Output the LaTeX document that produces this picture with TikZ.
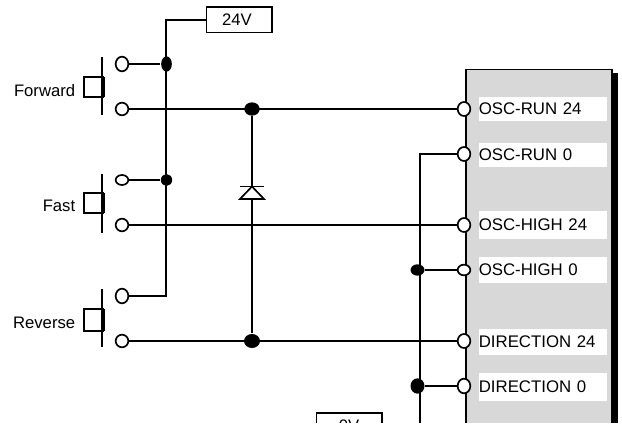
\documentclass[tikz,border=0pt]{standalone}
\usepackage{fontspec}
\usetikzlibrary{shapes.geometric}
\setmainfont{Liberation Sans}
\tikzset{every picture/.style={line width=1.25pt}}
\tikzset{
	terminal/.style={ellipse,draw,fill=white,minimum width=9.5pt,minimum height=#1,inner sep=0pt},
	terminal/.default=9.5pt,
	junction/.style={ellipse,fill=black,minimum height=#1,inner sep=0pt},
	pinlabel/.style={fill=white,anchor=west,font=\fontsize{12.6}{12.6}\selectfont,minimum height=#1,inner sep=0pt,text width=96pt,align=left},
	caption/.style={anchor=base east,font=\fontsize{12.5}{12.5}\selectfont,inner sep=0pt},
	supply/.style={draw,font=\fontsize{12.5}{12.5}\selectfont,minimum width=49pt,minimum height=19pt,inner sep=0pt}
}
\begin{document}
\begin{tikzpicture}[x=0.75pt,y=0.75pt,yscale=-1,xscale=1]
	\useasboundingbox (0,0) rectangle (622,424);
	\clip (0,0) rectangle (622,422.7);

	% Controller block
	\draw [fill={rgb, 255:red, 216; green, 216; blue, 216 }] (466,69.5) -- (612,69.5) -- (612,440) -- (466,440) -- cycle ;
	\fill (612,73) rectangle (618,440);
	\node [pinlabel=18pt] (lblRunHi) at (478,109) {OSC-RUN 24};
	\node [pinlabel=18pt] (lblRunLo) at (478,155) {OSC-RUN 0};
	\node [pinlabel=21pt] (lblHighHi) at (478,225) {OSC-HIGH 24};
	\node [pinlabel=19pt] (lblHighLo) at (478,270) {OSC-HIGH 0};
	\node [pinlabel=19.5pt] (lblDirHi) at (478,342) {DIRECTION 24};
	\node [pinlabel=21pt] (lblDirLo) at (478,387) {DIRECTION 0};

	% Ports
	\node [terminal=10.5pt] (pRunHi) at (464,109) {};
	\node [terminal=10.5pt] (pRunLo) at (464,154) {};
	\node [terminal=10.5pt] (pHighHi) at (464,225) {};
	\node [terminal=8pt] (pHighLo) at (464,270) {};
	\node [terminal=10.5pt] (pDirHi) at (464,341) {};
	\node [terminal=11pt] (pDirLo) at (464,386) {};

	% Switch contacts
	\node [terminal=11pt] (fwdA) at (122,64) {};
	\node [terminal] (fwdB) at (122,109) {};
	\node [terminal=7.5pt] (fastA) at (122,180) {};
	\node [terminal] (fastB) at (122,225) {};
	\node [terminal=11pt] (revA) at (122,296) {};
	\node [terminal] (revB) at (122,341) {};

	% Junctions
	\node [junction=11.5pt,minimum width=8pt] (jFwd) at (166.5,64) {};
	\node [junction=9pt,minimum width=8.5pt] (jFast) at (166.5,180) {};
	\node [junction=10pt,minimum width=11.5pt] (jDioTop) at (252,109) {};
	\node [junction=10.5pt,minimum width=12pt] (jDioBot) at (252,341) {};
	\node [junction=8.5pt,minimum width=10.5pt] (jHighLo) at (417.5,270) {};
	\node [junction=11.5pt,minimum width=10.5pt] (jDirLo) at (417.5,386) {};

	% Supply boxes
	\node [supply] (vHigh) at (239,20) {24V\kern 3pt};
	\node [supply] (vLow) at (349,425.5) {0V};

	% Wiring
	\coordinate (cTop) at (166,20);
	\coordinate (cRev) at (166,296);
	\coordinate (cRun) at (420,154);
	\coordinate (cBot) at (420,440);
	\draw (vHigh) -- (cTop) -- (cRev) -- (revA);
	\draw (fwdA) -- (jFwd);
	\draw (fastA) -- (jFast);
	\draw (fwdB) -- (pRunHi);
	\draw (fastB) -- (pHighHi);
	\draw (revB) -- (pDirHi);
	\draw (pRunLo) -- (cRun) -- (cBot);
	\draw (jHighLo) -- (pHighLo);
	\draw (jDirLo) -- (pDirLo);

	% Diode
	\draw [line width=1.4pt] (jDioTop) -- (jDioBot);
	\draw [fill=white] (252,186.5) -- (240,199) -- (264,199) -- cycle ;
	\draw (240,186.5) -- (264,186.5) ;

	% Push buttons
	\foreach \ya/\yb/\yc/\yd/\yt/\name in {57/115/77/97/96.5/Forward,174/233/193/213/212/Fast,289/347/309/331/328.7/Reverse}{
		\draw (102,\ya) -- (102,\yb) ;
		\draw (104,\yc) -- (84,\yc) -- (84,\yd) -- (104,\yd) ;
		\draw [line width=2.2pt] (103.7,\yc) -- (103.7,\yd) ;
		\node [caption] (cap\name) at (76,\yt) {\name};
	}
\end{tikzpicture}
\end{document}
